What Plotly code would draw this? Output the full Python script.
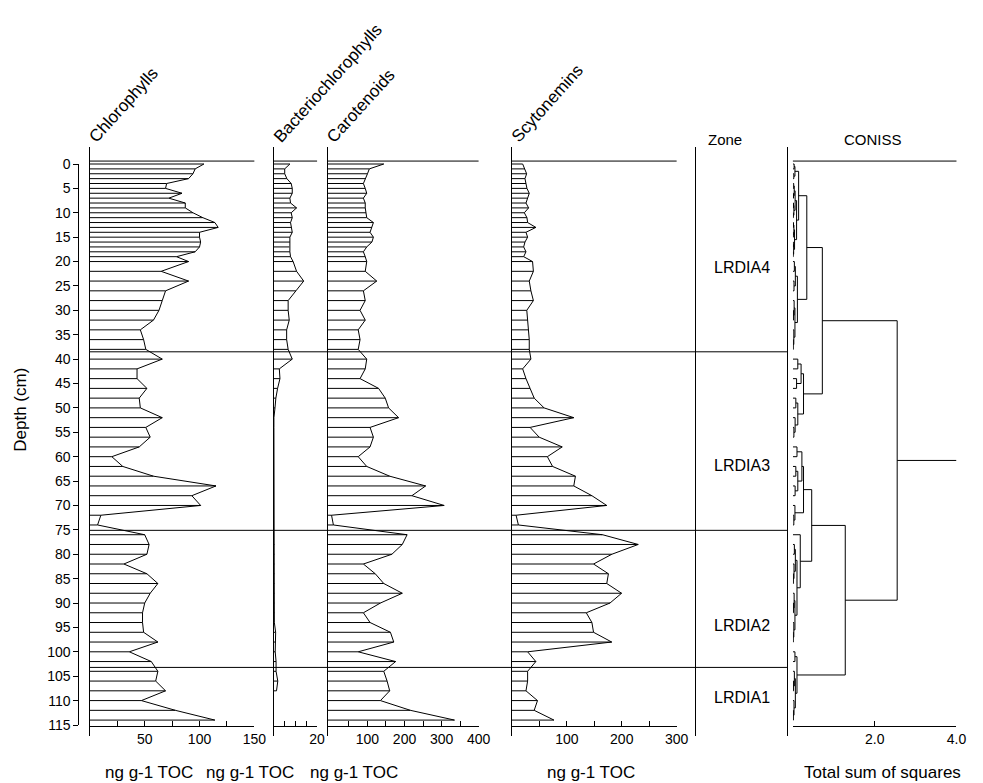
import plotly.graph_objects as go

# ---------------- data ----------------
depths = list(range(0, 21)) + list(range(22, 115, 2))

chlorophylls = [104, 96, 94, 90, 70, 69, 84, 72, 87, 87, 94, 103, 114, 117, 100, 100, 101, 100, 96, 79, 90,
                65, 90, 69, 66, 63, 58, 46, 49, 51, 66, 43, 43, 52, 45, 46, 66, 51, 55, 45, 20, 30, 58,
                115, 93, 101, 10, 7, 50, 54, 52, 31, 52, 62, 55, 50, 48, 48, 49, 62, 36, 56, 62, 60, 69,
                47, 78, 114]

bacteriochlorophylls = [7.4, 5.0, 5.0, 6.0, 8.0, 8.5, 8.5, 7.4, 7.7, 10.5, 8.0, 8.5, 7.7, 8.0, 8.5, 7.4, 7.4,
                        7.1, 7.4, 7.7, 8.9,
                        10.5, 13.8, 10.2, 6.6, 6.6, 7.1, 5.9, 5.9, 6.6, 8.5, 2.5, 2.8, 1.7, 0.9, 0.5, 0, 0, 0,
                        0, 0, 0, 0, 0, 0, 0, 0, 0, 0, 0.2, 0.2, 0.2, 0.2, 0.2, 0.2, 0.2, 0.2, 0.2, 0.8, 0.6,
                        0.6, 1.0, 1.0, 1.8, 1.2]

carotenoids = [144, 105, 100, 94, 89, 94, 98, 89, 94, 94, 96, 98, 116, 112, 107, 116, 112, 98, 89, 94, 98,
               94, 125, 89, 94, 80, 94, 75, 80, 75, 98, 94, 80, 130, 148, 157, 184, 107, 116, 107, 75, 98,
               160, 257, 220, 307, 3, 8, 207, 194, 166, 89, 121, 144, 194, 135, 89, 107, 162, 171, 75, 176,
               144, 153, 160, 135, 216, 335]

scytonemins = [19.5, 23.7, 26.7, 23.7, 25.5, 27.3, 31.5, 28.5, 25.5, 30.3, 22.5, 27.3, 28.5, 43.5, 25.5,
               28.5, 23.7, 21.3, 25.5, 21.3, 37.5,
               39, 31.5, 34.5, 39, 27, 28.5, 30, 31.5, 31.5, 34.5, 19.5, 25.5, 33, 40.5, 58.5, 112.6, 33,
               49.5, 91.5, 64.5, 74, 115.6, 112.6, 145.6, 172.6, 7.5, 11.7, 165, 230, 182, 148.6, 175.7,
               172.7, 199.7, 178.6, 135.4, 145.6, 148.6, 181.7, 28.5, 43.5, 28.5, 28.5, 25.5, 46.5, 40.5,
               76.5]

zone_bounds = [38.5, 75.1, 103.2]
zone_names = ["LRDIA4", "LRDIA3", "LRDIA2", "LRDIA1"]
zone_label_depths = [21.3, 61.9, 94.7, 109.3]

depth_ticks = list(range(0, 116, 5))

# CONISS tree: internal node = [height, left, right]; group = [height, [depths]]; leaf = depth
coniss_tree = [2.55,
               [0.72,
                [0.34,
                 [0.14, [0.05, [0, 1, 2, 3]], [0.09, list(range(4, 20))]],
                 [0.11, [0.06, [20, 22, 24, 26]], [0.05, [28, 30, 32, 34, 36, 38]]]],
                [0.26, [0.2, [40, 42, 44, 46]], [0.12, [48, 50, 52, 54, 56]]]],
               [1.28,
                [0.46,
                 [0.26, [0.22, [0.1, [58, 60]], [0.12, [62, 64, 66, 68]]], [0.05, [70, 72, 74]]],
                 [0.18, 76, [0.1, [0.06, [78, 80, 82, 84, 86]], [0.05, [88, 90, 92, 94, 96, 98]]]]],
                [0.1, [0.05, [100, 102]], [0.06, [104, 106, 108, 110, 112, 114]]]]]

# ---------------- layout helpers ----------------
W, H = 983, 783
TOP, BOT = 147, 736
PH = BOT - TOP
FONT = "Liberation Sans, Arial, sans-serif"


def fx(px):
    return px / W


def fy(py):
    return (BOT - py) / PH


def depth_at(py):
    return (py - 164) / 4.878


Y_RANGE = [depth_at(BOT), depth_at(TOP)]
XAXIS_POS = fy(726)
TICKFONT = dict(size=14, color="black", family=FONT)
LABFONT = dict(size=17, color="black", family=FONT)

panels = [
    dict(name="Chlorophylls", vals=chlorophylls, dom=(91, 257.5), rng=[0, 150],
         tv=[25, 50, 75, 100, 125, 150], tt=["", "50", "", "100", "", "150"]),
    dict(name="Bacteriochlorophylls", vals=bacteriochlorophylls, dom=(277.3, 321), rng=[0, 20],
         tv=[5, 10, 15, 20], tt=["", "", "", "20"]),
    dict(name="Carotenoids", vals=carotenoids, dom=(331.7, 484.5), rng=[-7.5, 400],
         tv=[50, 100, 150, 200, 250, 300, 350, 400], tt=["", "100", "", "200", "", "300", "", "400"]),
    dict(name="Scytonemins", vals=scytonemins, dom=(518.3, 685), rng=[0, 300],
         tv=[50, 100, 150, 200, 250, 300], tt=["", "100", "", "200", "", "300"]),
]

fig = go.Figure()
layout = {}
shapes = []
annotations = []
LINE = dict(color="black", width=1)

for i, p in enumerate(panels, start=1):
    xa = "x" if i == 1 else f"x{i}"
    ya = "y" if i == 1 else f"y{i}"
    base = p["rng"][0]
    bx, by = [], []
    for d, v in zip(depths, p["vals"]):
        bx += [base, v, None]
        by += [d, d, None]
    fig.add_trace(go.Scatter(x=bx, y=by, mode="lines", line=LINE, xaxis=xa, yaxis=ya,
                             hoverinfo="skip", showlegend=False))
    fig.add_trace(go.Scatter(x=p["vals"], y=depths, mode="lines", line=LINE, xaxis=xa, yaxis=ya,
                             hoverinfo="skip", showlegend=False))
    layout["xaxis" if i == 1 else f"xaxis{i}"] = dict(
        domain=[fx(p["dom"][0]), fx(p["dom"][1])], range=p["rng"], anchor="free", position=XAXIS_POS,
        showline=True, linecolor="black", linewidth=1, ticks="inside", ticklen=5, tickcolor="black",
        tickmode="array", tickvals=p["tv"], ticktext=p["tt"], showgrid=False, zeroline=False,
        tickfont=TICKFONT)
    layout["yaxis" if i == 1 else f"yaxis{i}"] = dict(
        domain=[0, 1], range=Y_RANGE, anchor=xa, showline=True, linecolor="black", linewidth=1,
        ticks="", showticklabels=False, showgrid=False, zeroline=False)
    shapes.append(dict(type="line", xref=f"{xa} domain", x0=0, x1=1, yref=ya, y0=-0.6, y1=-0.6,
                       line=LINE))
    annotations.append(dict(text=p["name"], xref="paper", yref="paper", x=fx(p["dom"][0] - 7),
                            y=fy(149), xanchor="left", yanchor="bottom", textangle=-48,
                            showarrow=False, font=LABFONT))

# zone column
fig.add_trace(go.Scatter(x=[None], y=[None], xaxis="x5", yaxis="y5", showlegend=False, hoverinfo="skip"))
layout["xaxis5"] = dict(domain=[fx(705), fx(796.7)], range=[0, 1], visible=False)
layout["yaxis5"] = dict(domain=[0, 1], range=Y_RANGE, anchor="x5", showline=True, linecolor="black",
                        linewidth=1, ticks="", showticklabels=False, showgrid=False, zeroline=False)
for zb in zone_bounds:
    shapes.append(dict(type="line", xref="paper", x0=fx(91), x1=fx(796.7), yref="y", y0=zb, y1=zb,
                       line=LINE))
for name, d in zip(zone_names, zone_label_depths):
    annotations.append(dict(text=name, xref="x5", yref="y5", x=0.5, y=d, xanchor="center",
                            yanchor="middle", showarrow=False, font=dict(LABFONT, size=16)))

# CONISS dendrogram
segs_x, segs_y = [], []


def build(node):
    if isinstance(node, (int, float)):
        return node, 0.0
    if len(node) == 2:
        h, leaves = node
        if len(leaves) == 1:
            return leaves[0], 0.0
        m = len(leaves) // 2
        node = [h, [h * 0.6, leaves[:m]] if m > 1 else leaves[0],
                [h * 0.45, leaves[m:]] if len(leaves) - m > 1 else leaves[m]]
    h, left, right = node
    pl, hl = build(left)
    pr, hr = build(right)
    segs_x.extend([hl, h, h, hr, None])
    segs_y.extend([pl, pl, pr, pr, None])
    return (pl + pr) / 2, h


root_pos, root_h = build(coniss_tree)
segs_x.extend([root_h, 4.0, None])
segs_y.extend([root_pos, root_pos, None])
fig.add_trace(go.Scatter(x=segs_x, y=segs_y, mode="lines", line=LINE, xaxis="x6", yaxis="y6",
                         hoverinfo="skip", showlegend=False))
layout["xaxis6"] = dict(domain=[fx(802.7), fx(968.3)], range=[0, 4], anchor="free", position=XAXIS_POS,
                        showline=True, linecolor="black", linewidth=1, ticks="inside", ticklen=5,
                        tickcolor="black", tickmode="array", tickvals=[0, 2, 4], ticktext=["", "2.0", "4.0"],
                        showgrid=False, zeroline=False, tickfont=TICKFONT)
layout["yaxis6"] = dict(domain=[0, 1], range=Y_RANGE, anchor="free", position=fx(796.7), showline=True,
                        linecolor="black", linewidth=1, ticks="", showticklabels=False, showgrid=False,
                        zeroline=False)
shapes.append(dict(type="line", xref="x6 domain", x0=0, x1=1, yref="y6", y0=-0.6, y1=-0.6, line=LINE))

# depth axis
fig.add_trace(go.Scatter(x=[None], y=[None], xaxis="x", yaxis="y7", showlegend=False, hoverinfo="skip"))
layout["yaxis7"] = dict(domain=[fy(725), fy(164)], range=[115, 0], anchor="free", position=fx(79.3),
                        side="left", showline=True, linecolor="black", linewidth=1, ticks="outside",
                        ticklen=5, tickcolor="black", tickmode="array", tickvals=depth_ticks,
                        showgrid=False, zeroline=False, tickfont=TICKFONT)

# texts
annotations += [
    dict(text="Depth (cm)", xref="paper", yref="paper", x=fx(20), y=fy(410), textangle=-90,
         xanchor="center", yanchor="middle", showarrow=False, font=LABFONT),
    dict(text="Zone", xref="paper", yref="paper", x=fx(734), y=fy(150), xanchor="center",
         yanchor="bottom", showarrow=False, font=dict(LABFONT, size=15)),
    dict(text="CONISS", xref="paper", yref="paper", x=fx(884), y=fy(150), xanchor="center",
         yanchor="bottom", showarrow=False, font=dict(LABFONT, size=15)),
]
for cx, t in [(151, "ng g-1 TOC"), (253, "ng g-1 TOC"), (358, "ng g-1 TOC"), (598, "ng g-1 TOC"),
              (893, "Total sum of squares")]:
    annotations.append(dict(text=t, xref="paper", yref="paper", x=fx(cx), y=fy(772), xanchor="center",
                            yanchor="middle", showarrow=False, font=LABFONT))

fig.update_layout(width=W, height=H, margin=dict(l=0, r=0, t=TOP, b=H - BOT),
                  paper_bgcolor="white", plot_bgcolor="rgba(0,0,0,0)", showlegend=False,
                  shapes=shapes, annotations=annotations, font=dict(family=FONT, color="black"),
                  **layout)
fig.write_html("out.html")
